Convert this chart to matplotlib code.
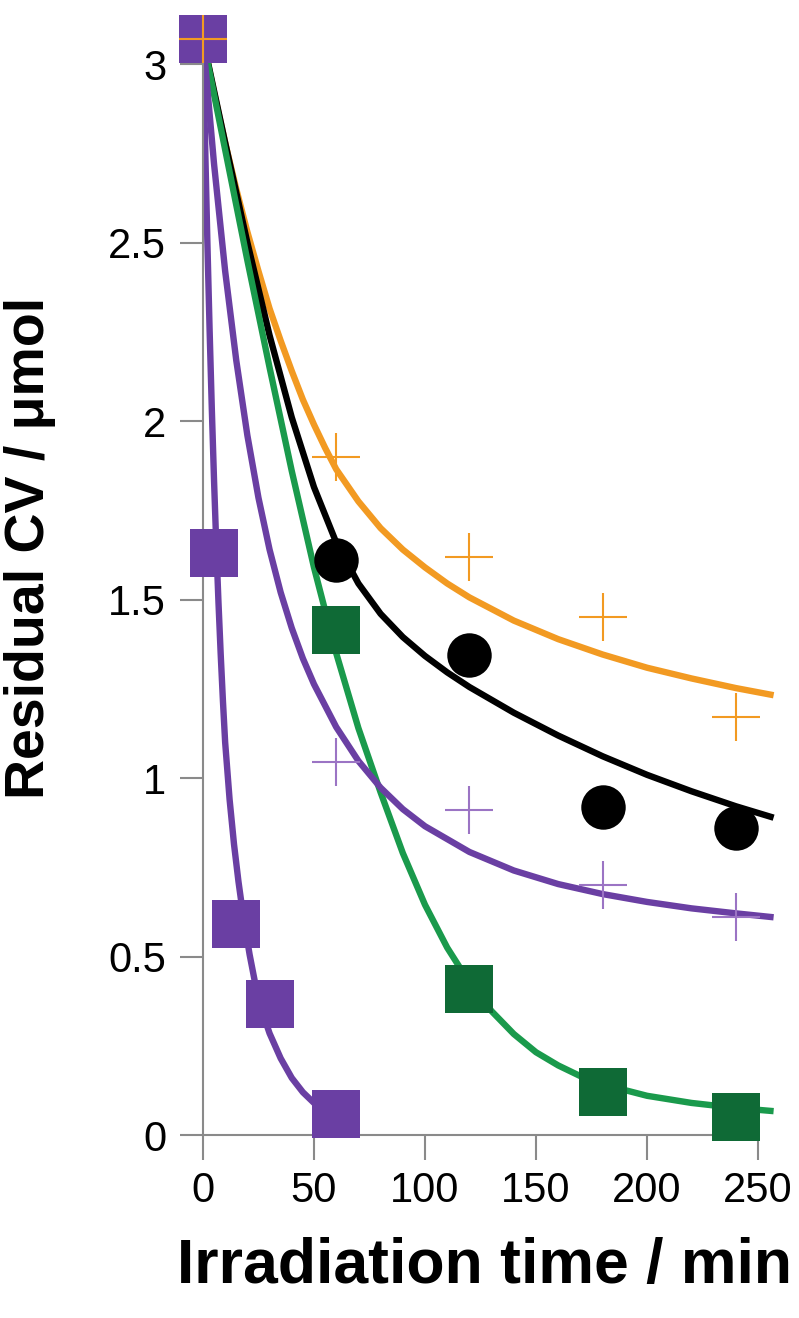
import numpy as np
import matplotlib.pyplot as plt
from matplotlib.ticker import FuncFormatter

plt.rcParams['font.family'] = ['Liberation Sans', 'DejaVu Sans']

# measured points
t_cross = [0, 60, 120, 180, 240]
orange_cross = [3.07, 1.90, 1.62, 1.45, 1.17]
purple_cross = [3.07, 1.045, 0.91, 0.70, 0.61]

t_circ = [0, 60, 120, 180, 240]
black_circ = [3.07, 1.61, 1.345, 0.92, 0.86]

t_green = [0, 60, 120, 180, 240]
green_sq = [3.07, 1.415, 0.41, 0.12, 0.05]

t_purple = [0, 5, 15, 30, 60]
purple_sq = [3.07, 1.63, 0.59, 0.367, 0.06]

t_orange_fit = [0, 5, 10, 15, 20, 25, 30, 35, 40, 45, 50, 55, 60, 70, 80, 90, 100, 110, 120,
                140, 160, 180, 200, 220, 240, 257]
orange_fit = [3.07, 2.92, 2.78, 2.65, 2.53, 2.42, 2.315, 2.225, 2.14, 2.06, 1.99, 1.925, 1.865,
              1.775, 1.70, 1.64, 1.59, 1.545, 1.506, 1.441, 1.389, 1.346, 1.309, 1.279, 1.252, 1.232]

t_black_fit = [0, 10, 20, 30, 40, 50, 60, 70, 80, 90, 100, 110, 120, 140, 160, 180, 200, 220, 240, 257]
black_fit = [3.07, 2.78, 2.50, 2.24, 2.01, 1.815, 1.66, 1.545, 1.46, 1.395, 1.342, 1.296, 1.255,
             1.183, 1.119, 1.061, 1.009, 0.963, 0.921, 0.889]

t_green_fit = [0, 10, 20, 30, 40, 50, 60, 70, 80, 90, 100, 110, 120, 130, 140, 150, 160, 170, 180,
               200, 220, 240, 257]
green_fit = [3.07, 2.76, 2.45, 2.15, 1.86, 1.59, 1.35, 1.14, 0.96, 0.79, 0.645, 0.525, 0.427, 0.347,
             0.283, 0.232, 0.195, 0.165, 0.142, 0.11, 0.09, 0.076, 0.067]

t_pslow_fit = [0, 5, 10, 15, 20, 25, 30, 35, 40, 45, 50, 60, 70, 80, 90, 100, 120, 140, 160, 180,
               200, 220, 240, 257]
pslow_fit = [3.07, 2.72, 2.42, 2.17, 1.96, 1.785, 1.64, 1.52, 1.42, 1.335, 1.263, 1.143, 1.048,
             0.973, 0.913, 0.865, 0.793, 0.741, 0.703, 0.675, 0.653, 0.635, 0.621, 0.61]

t_pfast_fit = [0, 1, 2, 3, 4, 5, 6, 7, 8, 9, 10, 12, 14, 16, 18, 21, 24, 27, 30, 35, 40, 45, 50, 55, 60]
pfast_fit = [3.07, 2.77, 2.50, 2.255, 2.033, 1.833, 1.653, 1.491, 1.346, 1.216, 1.10, 0.94, 0.814,
             0.71, 0.62, 0.506, 0.41, 0.34, 0.285, 0.215, 0.16, 0.12, 0.09, 0.07, 0.055]

ORANGE = '#f29a22'
GREEN_LINE = '#1a9a4c'
GREEN_MARK = '#0f6a36'
PURPLE = '#6a3fa3'
PURPLE_LIGHT = '#9b74c4'

fig = plt.figure(figsize=(7.99, 13.18), dpi=100)
ax = fig.add_axes([0.254, 0.1388, 0.717, 0.8316])

lw = 4.6
fits = [(t_orange_fit, orange_fit, ORANGE),
        (t_black_fit, black_fit, 'black'),
        (t_green_fit, green_fit, GREEN_LINE),
        (t_pslow_fit, pslow_fit, PURPLE),
        (t_pfast_fit, pfast_fit, PURPLE)]
for tt, vv, c in fits:
    ax.plot(tt, vv, color=c, lw=lw, solid_capstyle='butt', solid_joinstyle='round', zorder=2)

ax.plot(t_green, green_sq, 's', color=GREEN_MARK, ms=34, mew=0, clip_on=False, zorder=3)
ax.plot(t_circ, black_circ, 'o', color='black', ms=32, mew=0, clip_on=False, zorder=3)
ax.plot(t_purple, purple_sq, 's', color=PURPLE, ms=34, mew=0, clip_on=False, zorder=4)
ax.plot(t_cross, purple_cross, '+', color=PURPLE_LIGHT, ms=34, mew=1.5, clip_on=False, zorder=5)
ax.plot(t_cross, orange_cross, '+', color=ORANGE, ms=34, mew=1.5, clip_on=False, zorder=5)

ax.set_xlim(0, 258)
ax.set_ylim(0, 3.07)
ax.set_xticks([0, 50, 100, 150, 200, 250])
ax.set_yticks([0, 0.5, 1, 1.5, 2, 2.5, 3])
ax.yaxis.set_major_formatter(FuncFormatter(lambda v, p: f'{v:g}'))

for side in ['top', 'right']:
    ax.spines[side].set_visible(False)
for side in ['left', 'bottom']:
    ax.spines[side].set_color('#8a8a8a')
    ax.spines[side].set_linewidth(1.5)
ax.spines['bottom'].set_bounds(0, 250)

ax.tick_params(axis='both', direction='out', color='#8a8a8a', width=1.5, labelsize=30)
ax.tick_params(axis='y', length=16.5, pad=10)
ax.tick_params(axis='x', length=18, pad=8)

fig.text(0.038, 1 - 548 / 1318, 'Residual CV / μmol', rotation=90, ha='center', va='center',
         fontsize=40, fontweight='bold')
fig.text(0.606, 1 - 1267 / 1318, 'Irradiation time / min', ha='center', va='center',
         fontsize=45, fontweight='bold')

fig.savefig('out.png', dpi=100)
